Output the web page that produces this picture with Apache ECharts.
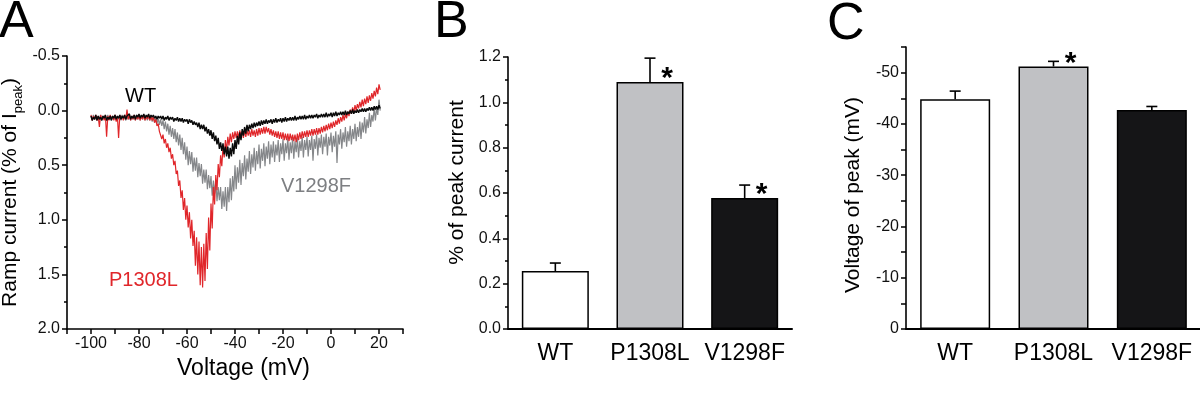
<!DOCTYPE html>
<html><head><meta charset="utf-8">
<script src="https://cdn.jsdelivr.net/npm/echarts@6/dist/echarts.min.js"></script>
<style>html,body{margin:0;padding:0;background:#fff}#c{width:1200px;height:416px}</style>
</head><body><div id="c"></div>
<script>
const FONT = '"Liberation Sans", Arial, Helvetica, sans-serif';

// ---------- Panel A: ramp current traces (sampled every 0.5 mV from -100 mV) ----------
const voltageStart = -100, voltageStep = 0.5;
const traceWT = [
.05,.09,.06,.08,.04,.09,.05,.08,.06,.09,.05,.07,.04,.09,.06,.08,.05,.09,.05,.07,
.04,.08,.05,.07,.04,.08,.05,.07,.04,.08,.05,.06,.03,.08,.05,.07,.04,.08,.04,.06,
.03,.07,.04,.06,.03,.07,.04,.06,.03,.07,.04,.06,.04,.07,.05,.08,.05,.07,.05,.08,
.05,.09,.06,.08,.05,.09,.06,.08,.06,.10,.07,.09,.06,.10,.07,.10,.07,.11,.08,.10,
.08,.12,.08,.11,.09,.13,.10,.13,.11,.15,.11,.17,.13,.17,.13,.19,.15,.21,.17,.23,
.18,.26,.20,.28,.23,.31,.25,.35,.29,.37,.30,.40,.33,.42,.33,.44,.34,.42,.30,.40,
.27,.35,.23,.31,.20,.27,.17,.23,.15,.21,.13,.19,.13,.17,.12,.16,.11,.15,.11,.14,
.10,.14,.09,.13,.09,.12,.08,.12,.09,.11,.08,.12,.08,.11,.07,.11,.08,.10,.07,.11,
.07,.10,.06,.10,.07,.09,.06,.09,.06,.09,.05,.09,.06,.08,.05,.08,.05,.08,.04,.08,
.05,.07,.04,.07,.04,.07,.04,.06,.03,.07,.04,.06,.03,.06,.03,.06,.02,.06,.03,.05,
.02,.06,.02,.05,.01,.05,.02,.04,.01,.04,.01,.04,.00,.04,.01,.03,.00,.03,-.01,.03,
.00,.02,-.01,.02,-.01,.01,-.02,.01,-.02,.01,-.02,.00,-.03,.00,-.03,.00,-.04,-.01,-.04,-.01,-.05,-.02
];
const traceP1308L = [
.04,.09,.05,.08,.04,.09,.05,.15,.04,.08,.05,.09,.04,.24,.05,.09,.04,.08,.05,.09,
.04,.10,.05,.25,.04,.08,.05,.09,.04,.08,-.01,.08,.04,.09,.05,.08,.04,.09,.05,.08,
.04,.09,.05,.08,.04,.09,.05,.08,.04,.09,.05,.09,.06,.11,.08,.14,.12,.19,.18,.26,
.22,.30,.26,.34,.30,.38,.34,.44,.40,.50,.46,.58,.55,.69,.64,.80,.73,.91,.80,1.00,
.87,1.07,.93,1.17,1.00,1.24,1.10,1.42,1.16,1.50,1.20,1.60,1.25,1.62,1.22,1.56,1.12,1.45,.98,1.28,
.85,1.08,.70,.86,.59,.73,.49,.61,.41,.51,.33,.43,.27,.37,.24,.32,.21,.29,.20,.26,
.19,.25,.19,.25,.18,.24,.19,.25,.18,.24,.18,.23,.18,.24,.17,.23,.18,.24,.17,.23,
.16,.22,.16,.21,.15,.21,.15,.20,.16,.22,.17,.23,.18,.24,.19,.25,.19,.26,.20,.26,
.20,.27,.21,.27,.21,.28,.21,.27,.22,.28,.22,.29,.21,.27,.20,.26,.19,.25,.19,.24,
.18,.24,.18,.23,.17,.23,.17,.22,.16,.22,.16,.21,.15,.20,.14,.19,.13,.18,.12,.17,
.11,.16,.10,.15,.09,.13,.07,.12,.06,.10,.04,.09,.03,.07,.01,.05,-.01,.03,-.03,.02,
-.05,.00,-.06,-.02,-.08,-.03,-.10,-.04,-.11,-.06,-.13,-.07,-.14,-.09,-.16,-.11,-.18,-.13,-.21,-.15,-.24,-.19
];
const traceV1298F = [
.05,.09,.04,.08,.06,.09,.05,.08,.04,.09,.05,.08,.05,.09,.04,.08,.06,.09,.05,.08,
.04,.09,.05,.08,.05,.09,.04,.08,.06,.09,.05,.08,.04,.09,.05,.08,.05,.09,.04,.08,
.05,.09,.05,.08,.04,.09,.05,.09,.05,.09,.05,.10,.06,.11,.06,.12,.07,.13,.08,.14,
.09,.17,.10,.19,.12,.22,.14,.24,.16,.26,.17,.29,.20,.32,.22,.36,.25,.40,.29,.45,
.33,.50,.37,.49,.38,.56,.43,.55,.43,.61,.48,.60,.49,.67,.54,.66,.54,.72,.59,.71,
.60,.78,.64,.76,.65,.83,.70,.82,.70,.90,.74,.88,.70,.92,.70,.84,.62,.82,.60,.74,
.50,.72,.52,.66,.45,.68,.48,.60,.41,.63,.44,.56,.37,.58,.40,.52,.34,.55,.37,.49,
.31,.53,.35,.46,.30,.51,.33,.44,.28,.49,.31,.43,.28,.47,.31,.41,.27,.47,.30,.40,
.26,.46,.30,.39,.25,.45,.29,.39,.25,.44,.28,.38,.25,.43,.28,.37,.24,.43,.27,.36,
.24,.42,.27,.36,.23,.46,.26,.35,.22,.41,.25,.34,.22,.40,.24,.33,.21,.41,.24,.32,
.20,.38,.23,.33,.19,.48,.22,.31,.17,.35,.20,.29,.15,.33,.19,.28,.14,.31,.17,.26,
.12,.28,.15,.24,.10,.26,.11,.20,.06,.21,.08,.16,.02,.15,.04,.10,-.03,.09,-.02,.04,-.10,.00
];

// ---------- Panels B and C: bar data ----------
const groups = ['WT', 'P1308L', 'V1298F'];
const peakCurrent = [0.256, 1.090, 0.578];
const peakCurrentErr = [0.035, 0.105, 0.057];
const peakCurrentSig = [0, 1, 1];
const peakVoltage = [-44.8, -51.2, -42.7];
const peakVoltageErr = [1.6, 1.0, 0.7];
const peakVoltageSig = [0, 1, 0];

const barColors = ['#ffffff', '#c0c1c4', '#151517'];
const traceColors = { WT: '#0a0a0a', P1308L: '#e0262a', V1298F: '#85878a' };

const toXY = arr => arr.map((v, i) => [voltageStart + voltageStep * i, v]);

function errRender(params, api) {
  const i = api.value(0), v = api.value(1), e = api.value(2), s = api.value(3);
  const end = v + (v < 0 ? -e : e);
  const p0 = api.coord([i, v]);
  const p1 = api.coord([i, end]);
  const cap = 5.5;
  const st = { stroke: '#000', lineWidth: 1.6 };
  const ch = [
    { type: 'line', shape: { x1: p0[0], y1: p0[1], x2: p1[0], y2: p1[1] }, style: st },
    { type: 'line', shape: { x1: p1[0] - cap, y1: p1[1], x2: p1[0] + cap, y2: p1[1] }, style: st }
  ];
  if (s) ch.push({ type: 'text', style: { text: '*', x: p0[0] + 17, y: p0[1] - 3, fontSize: 30, fontWeight: 'bold', fontFamily: FONT, fill: '#000', align: 'center', verticalAlign: 'middle' } });
  return { type: 'group', children: ch };
}

const axisLineStyle = { color: '#000', width: 1.6 };
const tickLabel = { fontSize: 16, color: '#111', fontFamily: FONT };

function txt(text, x, y, size, color) {
  return { type: 'text', x: x, y: y, silent: true,
    style: { text: text, fontSize: size, fontFamily: FONT, fill: color, align: 'left', verticalAlign: 'middle', textAlign: 'left', textVerticalAlign: 'middle' } };
}

const catLabel = { fontSize: 23, color: '#000', fontFamily: FONT, margin: 13, interval: 0, hideOverlap: false };

const option = {
  animation: false,
  backgroundColor: '#fff',
  textStyle: { fontFamily: FONT },
  grid: [
    { left: 67, top: 56, width: 336, height: 273, outerBoundsMode: 'none' },
    { left: 508, top: 57, width: 284, height: 272, outerBoundsMode: 'none' },
    { left: 906, top: 47, width: 295, height: 282, outerBoundsMode: 'none' }
  ],
  xAxis: [
    { type: 'value', gridIndex: 0, min: -110, max: 30, interval: 10,
      axisLine: { show: true, onZero: false, lineStyle: axisLineStyle },
      axisTick: { show: true, length: 5, lineStyle: { width: 1.5, color: '#000' } },
      axisLabel: Object.assign({ margin: 7, formatter: v => (v % 20 === 0 ? String(v) : '') }, tickLabel),
      splitLine: { show: false },
      name: 'Voltage (mV)', nameLocation: 'middle', nameGap: 22,
      nameTextStyle: { fontSize: 23, color: '#000', fontFamily: FONT, padding: [0, 0, 0, 17] } },
    { type: 'category', gridIndex: 1, data: groups,
      axisLine: { show: true, lineStyle: { color: '#000', width: 2 } },
      axisTick: { show: false }, axisLabel: catLabel },
    { type: 'category', gridIndex: 2, data: groups,
      axisLine: { show: true, lineStyle: { color: '#000', width: 2 } },
      axisTick: { show: false }, axisLabel: catLabel }
  ],
  yAxis: [
    { type: 'value', gridIndex: 0, inverse: true, min: -0.5, max: 2, interval: 0.5,
      axisLine: { show: true, onZero: false, lineStyle: axisLineStyle },
      axisTick: { show: true, length: 5, lineStyle: { width: 1.5, color: '#000' } },
      minorTick: { show: true, splitNumber: 2, length: 3, lineStyle: { width: 1.5, color: '#000' } },
      axisLabel: Object.assign({ margin: 7, formatter: v => v.toFixed(1) }, tickLabel),
      splitLine: { show: false }, minorSplitLine: { show: false },
      name: '{a|Ramp current (% of I}{s|peak}{a|)}', nameLocation: 'middle', nameRotate: 90, nameGap: 42,
      nameTextStyle: { rich: {
        a: { fontSize: 21, fontFamily: FONT, color: '#000', lineHeight: 30 },
        s: { fontSize: 13, fontFamily: FONT, color: '#000', lineHeight: 13, verticalAlign: 'bottom' } } } },
    { type: 'value', gridIndex: 1, min: 0, max: 1.2, interval: 0.2,
      axisLine: { show: true, lineStyle: axisLineStyle },
      axisTick: { show: true, length: 5, lineStyle: { width: 1.5, color: '#000' } },
      minorTick: { show: true, splitNumber: 2, length: 3, lineStyle: { width: 1.5, color: '#000' } },
      axisLabel: Object.assign({ margin: 7, formatter: v => v.toFixed(1) }, tickLabel),
      splitLine: { show: false }, minorSplitLine: { show: false },
      name: '% of peak current', nameLocation: 'middle', nameGap: 40,
      nameTextStyle: { fontSize: 21, color: '#000', fontFamily: FONT, padding: [0, 0, 0, 21] } },
    { type: 'value', gridIndex: 2, inverse: true, min: -55, max: 0, interval: 5,
      axisLine: { show: true, lineStyle: axisLineStyle },
      axisTick: { show: true, length: 5, lineStyle: { width: 1.5, color: '#000' } },
      axisLabel: Object.assign({ margin: 7, formatter: v => (v % 10 === 0 ? String(v) : '') }, tickLabel),
      splitLine: { show: false },
      name: 'Voltage of peak (mV)', nameLocation: 'middle', nameGap: 42,
      nameTextStyle: { fontSize: 21, color: '#000', fontFamily: FONT, padding: [0, 14, 0, 0] } }
  ],
  series: [
    { type: 'line', xAxisIndex: 0, yAxisIndex: 0, data: toXY(traceV1298F), showSymbol: false, symbol: 'none',
      lineStyle: { color: traceColors.V1298F, width: 1.2 }, z: 2 },
    { type: 'line', xAxisIndex: 0, yAxisIndex: 0, data: toXY(traceP1308L), showSymbol: false, symbol: 'none',
      lineStyle: { color: traceColors.P1308L, width: 1.2 }, z: 3 },
    { type: 'line', xAxisIndex: 0, yAxisIndex: 0, data: toXY(traceWT), showSymbol: false, symbol: 'none',
      lineStyle: { color: traceColors.WT, width: 1.4 }, z: 4 },
    { type: 'bar', xAxisIndex: 1, yAxisIndex: 1, barWidth: 67,
      data: peakCurrent.map((v, i) => ({ value: v, itemStyle: { color: barColors[i] } })),
      itemStyle: { borderColor: '#000', borderWidth: 1.5 } },
    { type: 'custom', xAxisIndex: 1, yAxisIndex: 1, z: 5, renderItem: errRender,
      data: peakCurrent.map((v, i) => [i, v, peakCurrentErr[i], peakCurrentSig[i]]) },
    { type: 'bar', xAxisIndex: 2, yAxisIndex: 2, barWidth: 70,
      data: peakVoltage.map((v, i) => ({ value: v, itemStyle: { color: barColors[i] } })),
      itemStyle: { borderColor: '#000', borderWidth: 1.5 } },
    { type: 'custom', xAxisIndex: 2, yAxisIndex: 2, z: 5, renderItem: errRender,
      data: peakVoltage.map((v, i) => [i, v, peakVoltageErr[i], peakVoltageSig[i]]) }
  ],
  graphic: [
    txt('A', -1, 23, 52, '#000'),
    txt('B', 434, 23, 52, '#000'),
    txt('C', 827, 25, 52, '#000'),
    txt('WT', 125, 96, 20, '#000'),
    txt('P1308L', 109, 280, 20, traceColors.P1308L),
    txt('V1298F', 281, 186, 20, '#7d7f82')
  ]
};

const chart = echarts.init(document.getElementById('c'), null, { renderer: 'canvas' });
chart.setOption(option);
</script>
</body></html>
